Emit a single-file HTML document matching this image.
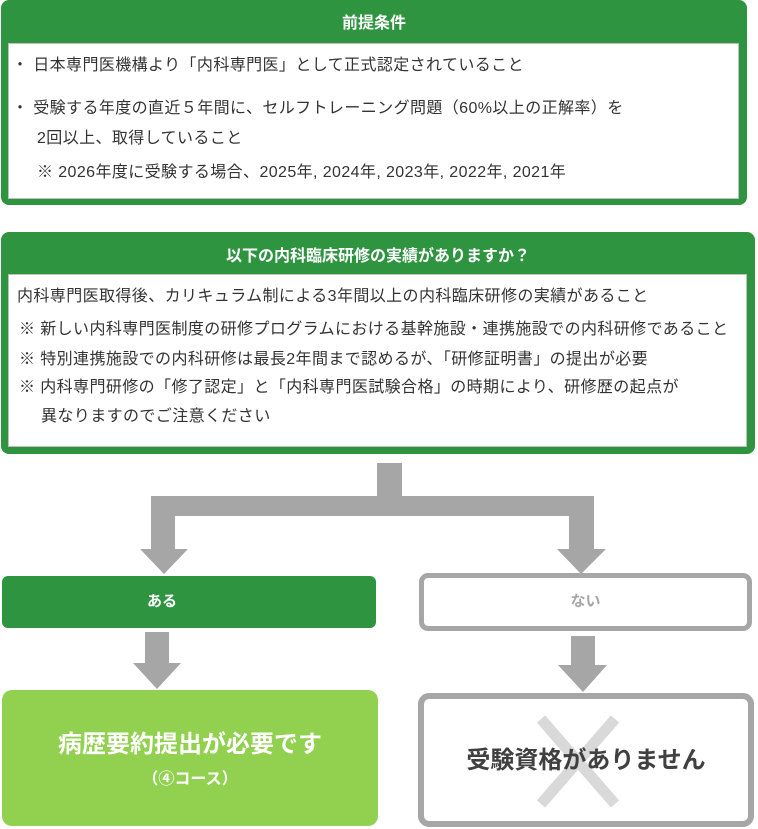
<!DOCTYPE html>
<html><head><meta charset="utf-8"><style>
*{margin:0;padding:0;box-sizing:border-box}
body{width:758px;height:829px;background:#fff;position:relative;overflow:hidden;font-family:"Liberation Sans","Noto Sans CJK JP",sans-serif;color:#333}
.abs{position:absolute}
.gbox{background:#2e9440;border-radius:8px}
.inner{background:#fff;border:1px solid #bfbfbf}
.t{position:absolute;white-space:nowrap;font-size:16px;line-height:20px;color:#333;letter-spacing:0.4px}
.title{position:absolute;left:0;width:100%;text-align:center;color:#fff;font-weight:bold;font-size:15px;line-height:20px}
.g{background:#a6a6a6;position:absolute}
</style></head><body>
<div class="abs gbox" style="left:1px;top:0;width:746px;height:205px"></div>
<div class="title" style="left:1px;width:746px;top:14px;font-size:16px">前提条件</div>
<div class="abs inner" style="left:8px;top:43px;width:731px;height:156px"></div>
<div class="t" style="left:12px;top:56px">・ 日本専門医機構より「内科専門医」として正式認定されていること</div>
<div class="t" style="left:12px;top:99px">・ 受験する年度の直近５年間に、セルフトレーニング問題（60%以上の正解率）を</div>
<div class="t" style="left:37px;top:129px">2回以上、取得していること</div>
<div class="t" style="left:37px;top:163px">※ 2026年度に受験する場合、2025年, 2024年, 2023年, 2022年, 2021年</div>

<div class="abs gbox" style="left:1px;top:232px;width:754px;height:222px"></div>
<div class="title" style="left:1px;width:754px;top:247px;font-size:16px">以下の内科臨床研修の実績がありますか？</div>
<div class="abs inner" style="left:8px;top:274px;width:739px;height:173px"></div>
<div class="t" style="left:17px;top:287px">内科専門医取得後、カリキュラム制による3年間以上の内科臨床研修の実績があること</div>
<div class="t" style="left:19px;top:320px">※ 新しい内科専門医制度の研修プログラムにおける基幹施設・連携施設での内科研修であること</div>
<div class="t" style="left:19px;top:350px">※ 特別連携施設での内科研修は最長2年間まで認めるが、「研修証明書」の提出が必要</div>
<div class="t" style="left:19px;top:378px">※ 内科専門研修の「修了認定」と「内科専門医試験合格」の時期により、研修歴の起点が</div>
<div class="t" style="left:41px;top:407px">異なりますのでご注意ください</div>

<svg class="abs" style="left:0;top:0" width="758" height="829">
<g fill="#a6a6a6">
<rect x="377" y="463" width="25" height="40"/>
<rect x="151" y="496" width="443" height="20"/>
<rect x="151" y="496" width="24" height="54"/>
<rect x="569" y="496" width="25" height="54"/>
<polygon points="140,549 188,549 164,574"/>
<polygon points="557,549 606,549 581,574"/>
<rect x="145" y="632" width="24" height="32"/>
<polygon points="133,663 181,663 157,689"/>
<rect x="571" y="636" width="24" height="30"/>
<polygon points="558,665 607,665 583,692"/>
</g>
</svg>

<div class="abs" style="left:2px;top:576px;width:374px;height:52px;background:#2e9440;border-radius:6px"></div>
<div class="title" style="left:2px;width:320px;top:592px">ある</div>
<div class="abs" style="left:419px;top:573px;width:333px;height:58px;border:5px solid #a6a6a6;border-radius:9px;background:#fff"></div>
<div class="title" style="left:419px;width:333px;top:592px;color:#a6a6a6">ない</div>

<div class="abs" style="left:2px;top:690px;width:376px;height:136px;background:#92d050;border-radius:10px"></div>
<div class="title" style="left:2px;width:376px;top:730px;font-size:24px;line-height:30px">病歴要約提出が必要です</div>
<div class="title" style="left:2px;width:376px;top:770px;font-size:16px">（④コース）</div>

<div class="abs" style="left:418px;top:693px;width:336px;height:134px;border:6px solid #a6a6a6;border-radius:11px;background:#fff"></div>
<svg class="abs" style="left:0;top:0" width="758" height="829">
<line x1="541" y1="719" x2="615" y2="804" stroke="#d9d9d9" stroke-width="11"/>
<line x1="615" y1="719" x2="541" y2="804" stroke="#d9d9d9" stroke-width="11"/>
</svg>
<div class="title" style="left:418px;width:336px;top:746px;font-size:24px;line-height:30px;color:#404040">受験資格がありません</div>
</body></html>
